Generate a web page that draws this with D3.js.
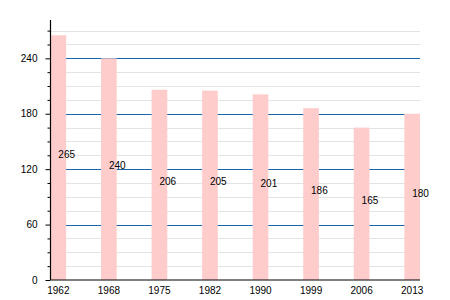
<!DOCTYPE html>
<html>
<head>
<meta charset="utf-8">
<script src="https://cdn.jsdelivr.net/npm/d3@7"></script>
<style>
  html, body { margin: 0; padding: 0; background: #fff; }
  svg { display: block; font-family: "Liberation Sans", Arial, sans-serif; }
</style>
</head>
<body>
<svg id="chart" width="450" height="300"></svg>
<script>
const years = ["1962", "1968", "1975", "1982", "1990", "1999", "2006", "2013"];
const values = [265, 240, 206, 205, 201, 186, 165, 180];
const majorTicks = [0, 60, 120, 180, 240];
const minorTicks = [15, 30, 45, 75, 90, 105, 135, 150, 165, 195, 210, 225, 255, 270];

const svg = d3.select("#chart");
const mLeft = 50.5, mRight = 420, mTop = 20, mBottom = 280;

const x = d3.scaleBand().domain(years).range([mLeft, mRight]).paddingInner(0.69).paddingOuter(0);
const y = d3.scaleLinear().domain([0, 281.5]).range([mBottom, mTop]);

// minor gridlines
svg.append("g").selectAll("line").data(minorTicks).join("line")
  .attr("x1", mLeft).attr("x2", mRight)
  .attr("y1", d => Math.round(y(d)) + 0.5).attr("y2", d => Math.round(y(d)) + 0.5)
  .attr("stroke", "#e3e3e3").attr("stroke-width", 1);

// major gridlines
svg.append("g").selectAll("line").data(majorTicks.filter(d => d > 0)).join("line")
  .attr("x1", mLeft).attr("x2", mRight)
  .attr("y1", d => Math.round(y(d)) + 0.5).attr("y2", d => Math.round(y(d)) + 0.5)
  .attr("stroke", "#1a64a8").attr("stroke-width", 1);

// bars
svg.append("g").selectAll("rect").data(values).join("rect")
  .attr("x", (d, i) => x(years[i]))
  .attr("width", x.bandwidth())
  .attr("y", d => y(d))
  .attr("height", d => y(0) - y(d))
  .attr("fill", "#ffcccc");

// value labels
svg.append("g").selectAll("text").data(values).join("text")
  .attr("x", (d, i) => x(years[i]) + x.bandwidth() / 2)
  .attr("y", d => y(d / 2))
  .attr("font-size", 10)
  .attr("fill", "#000")
  .text(d => d);

// y axis (major)
const yAxis = d3.axisLeft(y).tickValues(majorTicks).tickSize(5).tickPadding(8).tickFormat(d3.format("d"));
const gy = svg.append("g").attr("transform", `translate(${mLeft},0)`).call(yAxis);
gy.select(".domain").remove();
gy.selectAll("line").attr("stroke", "#000");
gy.selectAll("text").attr("font-size", 10).attr("fill", "#000").attr("font-family", "Liberation Sans, Arial, sans-serif");

// y axis minor ticks
const gyMinor = svg.append("g").attr("transform", `translate(${mLeft},0)`)
  .call(d3.axisLeft(y).tickValues(minorTicks).tickSize(3).tickFormat(""));
gyMinor.select(".domain").remove();
gyMinor.selectAll("line").attr("stroke", "#000");

// y axis line
svg.append("line").attr("x1", mLeft).attr("x2", mLeft).attr("y1", mTop).attr("y2", mBottom)
  .attr("stroke", "#000").attr("stroke-width", 1.2);

// x axis
const gx = svg.append("g").attr("transform", `translate(0,${mBottom})`)
  .call(d3.axisBottom(x).tickSize(0).tickPadding(7));
gx.select(".domain").attr("d", `M${mLeft},0H${mRight}`).attr("stroke", "#000").attr("stroke-width", 1.2);
gx.selectAll("text").attr("font-size", 10).attr("fill", "#000").attr("font-family", "Liberation Sans, Arial, sans-serif");
</script>
</body>
</html>
